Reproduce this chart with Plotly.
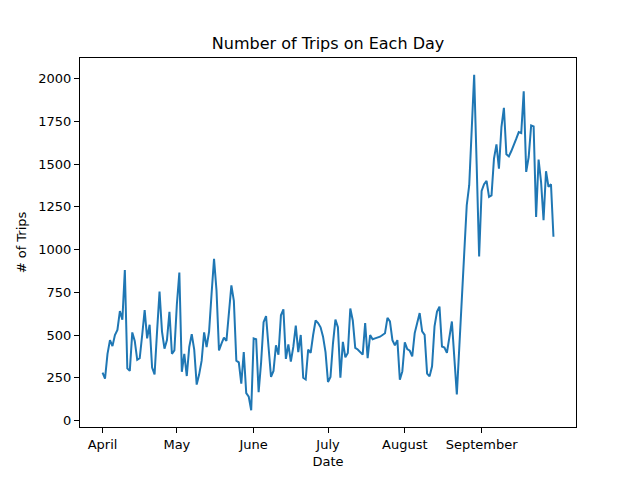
import plotly.graph_objects as go
import pandas as pd

# Daily trip counts, 1 April - 30 September
dates = pd.date_range("2023-04-01", "2023-09-30", freq="D")
trips = [
    # April
    280, 245, 390, 470, 435, 500, 530, 640, 590, 880,
    305, 290, 515, 465, 355, 365, 500, 645, 480, 560,
    310, 270, 520, 754, 520, 420, 470, 635, 390, 410,
    # May
    680, 865, 285, 390, 260, 430, 505, 415, 210, 270,
    350, 515, 430, 520, 740, 945, 760, 410, 450, 485,
    465, 640, 790, 700, 350, 340, 215, 400, 160, 140, 60,
    # June
    480, 475, 165, 340, 575, 610, 430, 255, 290, 440,
    385, 615, 650, 360, 445, 345, 430, 555, 400, 500,
    250, 240, 415, 395, 500, 585, 570, 545, 490, 400,
    # July
    225, 255, 450, 590, 545, 250, 460, 370, 395, 655,
    585, 425, 415, 400, 385, 570, 365, 500, 475, 480,
    485, 490, 500, 510, 600, 580, 470, 440, 470, 239, 287,
    # August
    457, 418, 408, 375, 511, 570, 628, 521, 501, 274,
    258, 317, 550, 637, 666, 433, 427, 395, 492, 579,
    365, 152, 430, 700, 980, 1259, 1376, 1700, 2022, 1500, 960,
    # September
    1343, 1382, 1401, 1308, 1317, 1532, 1615, 1473, 1716, 1829,
    1557, 1545, 1576, 1609, 1648, 1687, 1681, 1926, 1454, 1541,
    1726, 1720, 1191, 1526, 1395, 1172, 1458, 1366, 1382, 1075,
]

month_ticks = pd.date_range("2023-04-01", "2023-09-01", freq="MS")
month_labels = ["April", "May", "June", "July", "August", "September"]
y_ticks = [0, 250, 500, 750, 1000, 1250, 1500, 1750, 2000]

# matplotlib-like 5% autoscale margins
x_pad = (dates[-1] - dates[0]) * 0.05
y_pad = (max(trips) - min(trips)) * 0.05

fig = go.Figure()
fig.add_trace(go.Scatter(
    x=dates, y=trips,
    mode="lines",
    line=dict(color="#1f77b4", width=2),
    showlegend=False,
))

axis_style = dict(
    showgrid=False,
    zeroline=False,
    showline=True,
    mirror=True,
    linecolor="black",
    linewidth=1,
    ticks="outside",
    ticklen=5,
    tickwidth=1,
    tickcolor="black",
    tickfont=dict(family="DejaVu Sans", size=13, color="black"),
)

fig.update_xaxes(
    range=[dates[0] - x_pad, dates[-1] + x_pad],
    tickvals=month_ticks,
    ticktext=month_labels,
    title=dict(text="Date", font=dict(family="DejaVu Sans", size=13, color="black"),
               standoff=6),
    **axis_style
)
fig.update_yaxes(
    range=[min(trips) - y_pad, max(trips) + y_pad],
    tickvals=y_ticks,
    ticktext=[str(v) for v in y_ticks],
    title=dict(text="# of Trips", font=dict(family="DejaVu Sans", size=13, color="black"),
               standoff=8),
    **axis_style
)

fig.update_layout(
    width=640,
    height=480,
    margin=dict(l=80, r=64, t=58, b=53),
    plot_bgcolor="white",
    paper_bgcolor="white",
    title=dict(
        text="Number of Trips on Each Day",
        font=dict(family="DejaVu Sans", size=16, color="black"),
        x=0.5, xref="paper", xanchor="center",
        y=1 - 43 / 480, yref="container", yanchor="middle",
    ),
)

# drop the browser's default body margin so the figure sits at (0, 0)
fig.write_html(
    "out.html",
    config={"displayModeBar": False},
    post_script="document.body.style.margin = '0';",
)
